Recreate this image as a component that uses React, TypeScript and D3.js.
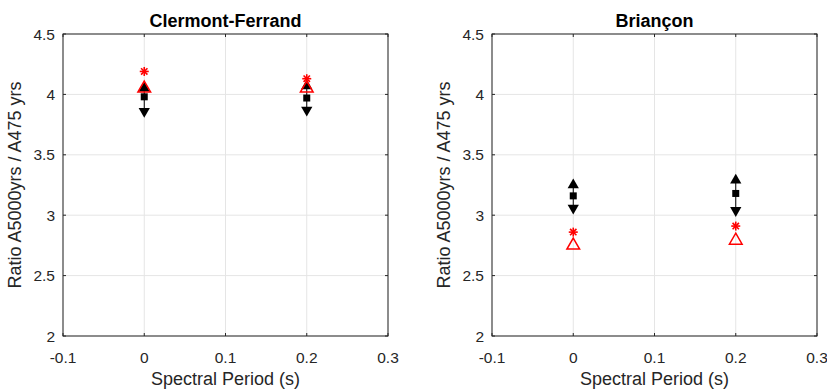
import React from 'react';
import * as d3 from 'd3';

// spectral periods (s)
const periods = [0, 0.2];

// Clermont-Ferrand
const cfUpper = [4.05, 4.07];
const cfMean = [3.98, 3.97];
const cfLower = [3.86, 3.87];
const cfStar = [4.19, 4.13];
const cfTri = [4.05, 4.05];

// Briançon
const brUpper = [3.25, 3.29];
const brMean = [3.16, 3.18];
const brLower = [3.06, 3.04];
const brStar = [2.86, 2.91];
const brTri = [2.75, 2.79];

const xTicks = [-0.1, 0, 0.1, 0.2, 0.3];
const yTicks = [2, 2.5, 3, 3.5, 4, 4.5];

const W = 827;
const H = 389;
const font = 'Liberation Sans, Arial, Helvetica, sans-serif';
const axisColor = '#262626';

interface PanelProps {
  left: number;
  title: string;
  upper: number[];
  mean: number[];
  lower: number[];
  star: number[];
  tri: number[];
}

const Panel = ({ left, title, upper, mean, lower, star, tri }: PanelProps) => {
  const top = 34;
  const w = 325;
  const h = 302;
  const x = d3.scaleLinear().domain([-0.1, 0.3]).range([0, w]);
  const y = d3.scaleLinear().domain([2, 4.5]).range([h, 0]);
  const triUp = d3.symbol().type(d3.symbolTriangle).size(55)() as string;
  const triBig = d3.symbol().type(d3.symbolTriangle).size(70)() as string;
  const fmt = (v: number) => (v === 0 ? '0' : String(v));

  const star8 = (cx: number, cy: number) => {
    const r = 4.5;
    const lines = [];
    for (let i = 0; i < 4; i++) {
      const a = (i * Math.PI) / 4;
      lines.push(
        <line
          key={i}
          x1={cx - r * Math.cos(a)}
          y1={cy - r * Math.sin(a)}
          x2={cx + r * Math.cos(a)}
          y2={cy + r * Math.sin(a)}
          stroke="#ff0000"
          strokeWidth={1.6}
        />
      );
    }
    return lines;
  };

  return (
    <g transform={`translate(${left}, ${top})`}>
      {xTicks.map(t => (
        <line key={'gx' + t} x1={x(t)} x2={x(t)} y1={0} y2={h} stroke="#e5e5e5" strokeWidth={1} />
      ))}
      {yTicks.map(t => (
        <line key={'gy' + t} x1={0} x2={w} y1={y(t)} y2={y(t)} stroke="#e5e5e5" strokeWidth={1} />
      ))}
      <rect x={0} y={0} width={w} height={h} fill="none" stroke={axisColor} strokeWidth={1} />
      {xTicks.map(t => (
        <g key={'tx' + t}>
          <line x1={x(t)} x2={x(t)} y1={h} y2={h - 3} stroke={axisColor} />
          <line x1={x(t)} x2={x(t)} y1={0} y2={3} stroke={axisColor} />
          <text x={x(t)} y={h + 27} textAnchor="middle" fontSize={15.5} fill={axisColor} fontFamily={font}>
            {fmt(t)}
          </text>
        </g>
      ))}
      {yTicks.map(t => (
        <g key={'ty' + t}>
          <line x1={0} x2={3} y1={y(t)} y2={y(t)} stroke={axisColor} />
          <line x1={w} x2={w - 3} y1={y(t)} y2={y(t)} stroke={axisColor} />
          <text x={-8} y={y(t) + 5.5} textAnchor="end" fontSize={15.5} fill={axisColor} fontFamily={font}>
            {fmt(t)}
          </text>
        </g>
      ))}
      <text x={w / 2} y={-7} textAnchor="middle" fontSize={18} fontWeight="bold" fill="#000" fontFamily={font}>
        {title}
      </text>
      <text x={w / 2} y={h + 49} textAnchor="middle" fontSize={18} fill={axisColor} fontFamily={font}>
        Spectral Period (s)
      </text>
      <text
        transform={`translate(${-42}, ${h / 2}) rotate(-90)`}
        textAnchor="middle"
        fontSize={18}
        fill={axisColor}
        fontFamily={font}
      >
        Ratio A5000yrs / A475 yrs
      </text>
      {periods.map((p, i) => {
        const cx = x(p);
        return (
          <g key={'m' + i}>
            <line x1={cx} x2={cx} y1={y(upper[i])} y2={y(lower[i])} stroke="#000" strokeWidth={1} />
            <path d={triUp} transform={`translate(${cx}, ${y(upper[i])})`} fill="#000" />
            <path d={triUp} transform={`translate(${cx}, ${y(lower[i])}) rotate(180)`} fill="#000" />
            <rect x={cx - 3.5} y={y(mean[i]) - 3.5} width={7} height={7} fill="#000" />
            {star8(cx, y(star[i]))}
            <path
              d={triBig}
              transform={`translate(${cx}, ${y(tri[i])})`}
              fill="none"
              stroke="#ff0000"
              strokeWidth={1.5}
            />
          </g>
        );
      })}
    </g>
  );
};

export default function App() {
  return (
    <svg width={W} height={H} style={{ position: 'absolute', left: 0, top: 0, background: '#fff' }}>
      <rect width={W} height={H} fill="#fff" />
      <Panel left={63} title="Clermont-Ferrand" upper={cfUpper} mean={cfMean} lower={cfLower} star={cfStar} tri={cfTri} />
      <Panel left={492} title="Briançon" upper={brUpper} mean={brMean} lower={brLower} star={brStar} tri={brTri} />
    </svg>
  );
}
